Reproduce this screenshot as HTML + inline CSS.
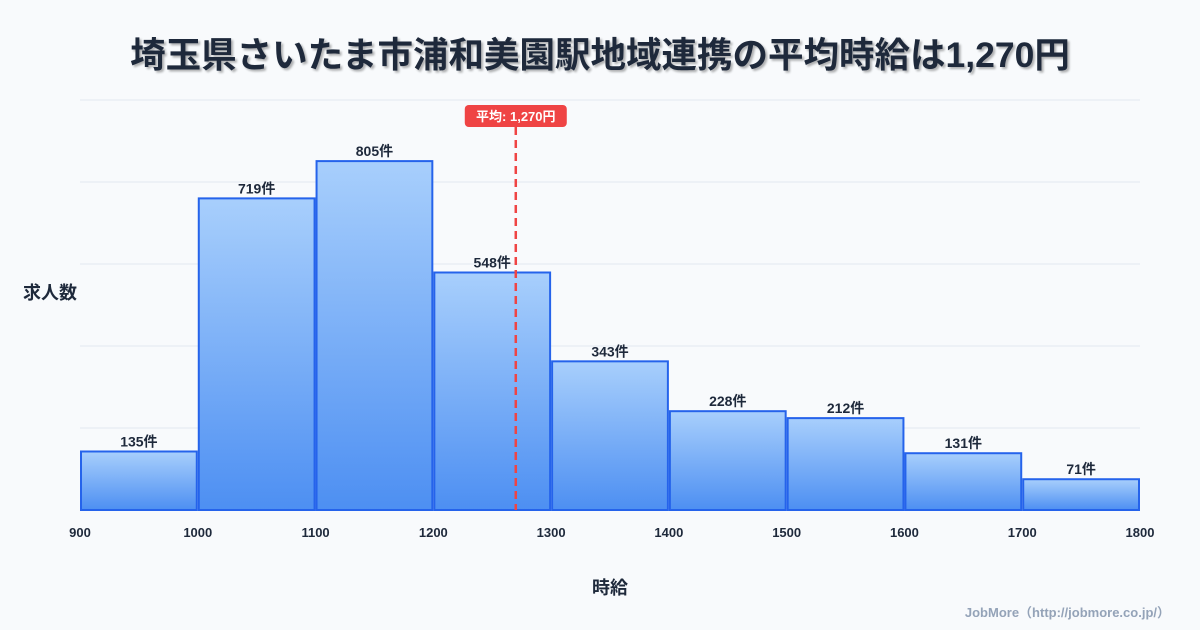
<!DOCTYPE html>
<html><head><meta charset="utf-8"><style>
body{margin:0;width:1200px;height:630px;background:#f8fafc;font-family:"Liberation Sans","Noto Sans CJK JP",sans-serif;overflow:hidden}
</style></head><body>
<svg id="chart" width="1200" height="630" style="position:absolute;left:0;top:0">
<defs><linearGradient id="g" x1="0" y1="0" x2="0" y2="1"><stop offset="0" stop-color="#a8cffc"/><stop offset="1" stop-color="#4d8ff2"/></linearGradient></defs>
<text x="600" y="67" text-anchor="middle" font-size="35.5" font-weight="bold" fill="#1e293b" style="text-shadow:2px 2px 2px rgba(0,0,0,0.3)">埼玉県さいたま市浦和美園駅地域連携の平均時給は1,270円</text>
<text x="50" y="299" text-anchor="middle" font-size="18" font-weight="bold" fill="#1e293b">求人数</text>
<text x="610" y="594" text-anchor="middle" font-size="18" font-weight="bold" fill="#1e293b">時給</text>
<text x="1170" y="617" text-anchor="end" font-size="13" font-weight="bold" fill="#94a3b8">JobMore（http://jobmore.co.jp/）</text>
<g id="grid"></g><g id="bars"></g><g id="xt"></g><g id="avg"></g>
</svg>
<script>
const binStarts=[900,1000,1100,1200,1300,1400,1500,1600,1700];
const counts=[135,719,805,548,343,228,212,131,71];
const xTicks=[900,1000,1100,1200,1300,1400,1500,1600,1700,1800];
const avgValue=1270;
const avgLabel="平均: 1,270円";
const NS="http://www.w3.org/2000/svg";
const X0=80,X1=1140,Y0=510,Y1=100,yMax=946;
const xs=v=>X0+(v-900)/900*(X1-X0);
const ys=v=>Y0-v/yMax*(Y0-Y1);
function mk(t,a,p){const e=document.createElementNS(NS,t);for(const k in a)e.setAttribute(k,a[k]);p.appendChild(e);return e;}
const grid=document.getElementById('grid');
for(let i=0;i<=5;i++){const y=Y1+i*(Y0-Y1)/5;const l=mk('line',{x1:X0,x2:X1,y1:y,y2:y,stroke:'#e2e8f0','stroke-width':1},grid);

}
const bars=document.getElementById('bars');
binStarts.forEach((b,i)=>{const x=xs(b)+1,w=xs(b+100)-xs(b)-2,y=ys(counts[i]);
const r=mk('rect',{x:x,y:y,width:w,height:Y0-y,fill:'url(#g)',stroke:'#2563eb','stroke-width':2},bars);


const t=mk('text',{x:x+w/2,y:y-5,'text-anchor':'middle','font-size':14,'font-weight':'bold',fill:'#1e293b'},bars);t.textContent=counts[i]+'件';

});
const xt=document.getElementById('xt');
xTicks.forEach(v=>{const t=mk('text',{x:xs(v),y:537,'text-anchor':'middle','font-size':13,'font-weight':'bold',fill:'#1e293b'},xt);t.textContent=v;

});
const av=document.getElementById('avg'),ax=xs(avgValue);
const l=mk('line',{x1:ax,x2:ax,y1:127,y2:Y0,stroke:'#ef4444','stroke-width':2.5,'stroke-dasharray':'8,5'},av);


const bg=mk('rect',{x:ax-51,y:105,width:102,height:22,rx:4,fill:'#ef4444'},av);


const at=mk('text',{x:ax,y:121,'text-anchor':'middle','font-size':13,'font-weight':'bold',fill:'#fff'},av);at.textContent=avgLabel;


</script>
</body></html>
